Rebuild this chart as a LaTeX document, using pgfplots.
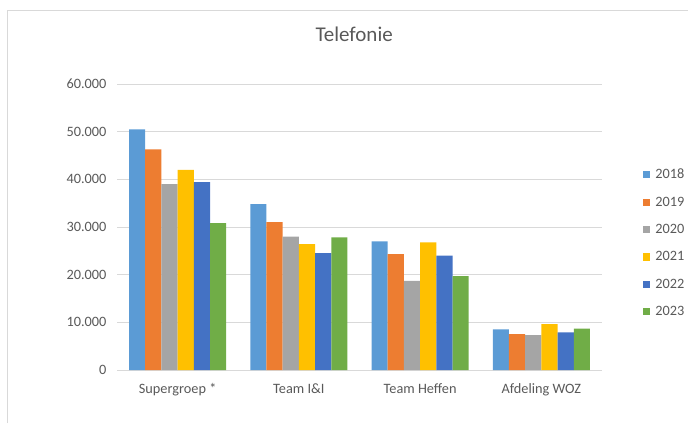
\documentclass[border=0pt]{standalone}
\usepackage{fontspec}
\setmainfont{Carlito}
\usepackage{pgfplots}
\pgfplotsset{compat=1.18}
\definecolor{c18}{HTML}{5B9BD5}
\definecolor{c19}{HTML}{ED7D31}
\definecolor{c20}{HTML}{A5A5A5}
\definecolor{c21}{HTML}{FFC000}
\definecolor{c22}{HTML}{4472C4}
\definecolor{c23}{HTML}{70AD47}
\definecolor{txt}{HTML}{595959}
\definecolor{gridc}{HTML}{D9D9D9}
\begin{document}
\begin{tikzpicture}
\begin{axis}[
  at={(117pt,53pt)}, anchor=south west,
  scale only axis, width=485pt, height=286pt,
  ybar=0pt, bar width=16.2pt,
  xmin=-0.5, xmax=3.5, ymin=0, ymax=60000,
  enlargelimits=false,
  xtick={0,1,2,3},
  xticklabels={Supergroep *, Team I\&I, Team Heffen, Afdeling WOZ},
  ytick={0,10000,20000,30000,40000,50000,60000},
  scaled y ticks=false,
  axis x line*=bottom, axis y line*=left,
  y axis line style={draw=none},
  x axis line style={draw=gridc, line width=0.9pt, -},
  major tick length=0pt,
  ymajorgrids, grid style={draw=gridc, line width=0.9pt},
  tick label style={font=\fontsize{14.3}{17}\selectfont, text=txt},
  xticklabel style={yshift=-10pt},
  yticklabel style={xshift=-7pt, /pgf/number format/.cd, 1000 sep={.}, assume math mode=true},
  title={Telefonie},
  title style={font=\fontsize{21}{25}\selectfont, text=txt, at={(0.489,1.154)}, anchor=center},
  legend style={at={(1.0845,0.444)}, anchor=west, draw=none, fill=none,
    font=\fontsize{14.3}{17}\selectfont, text=txt, inner sep=0pt,
    row sep=12.6pt, nodes={inner sep=2pt},
    /tikz/every odd column/.style={column sep=3pt}},
  legend cell align=left,
  legend image code/.code={\fill[#1] (0pt,-3.6pt) rectangle (7.3pt,3.6pt);},
]
\addplot[fill=c18, draw=none] coordinates {(0,50500) (1,34800) (2,27000) (3,8500)};
\addplot[fill=c19, draw=none] coordinates {(0,46300) (1,31000) (2,24300) (3,7550)};
\addplot[fill=c20, draw=none] coordinates {(0,39000) (1,28000) (2,18700) (3,7300)};
\addplot[fill=c21, draw=none] coordinates {(0,42000) (1,26400) (2,26800) (3,9650)};
\addplot[fill=c22, draw=none] coordinates {(0,39400) (1,24500) (2,24000) (3,7900)};
\addplot[fill=c23, draw=none] coordinates {(0,30800) (1,27800) (2,19700) (3,8700)};
\legend{2018,2019,2020,2021,2022,2023}
\end{axis}
\draw[gridc, line width=1pt] (7pt,0pt) -- (7pt,412pt) -- (690pt,412pt);
\pgfresetboundingbox
\useasboundingbox (0pt,0pt) rectangle (688pt,423pt);
\end{tikzpicture}
\end{document}
